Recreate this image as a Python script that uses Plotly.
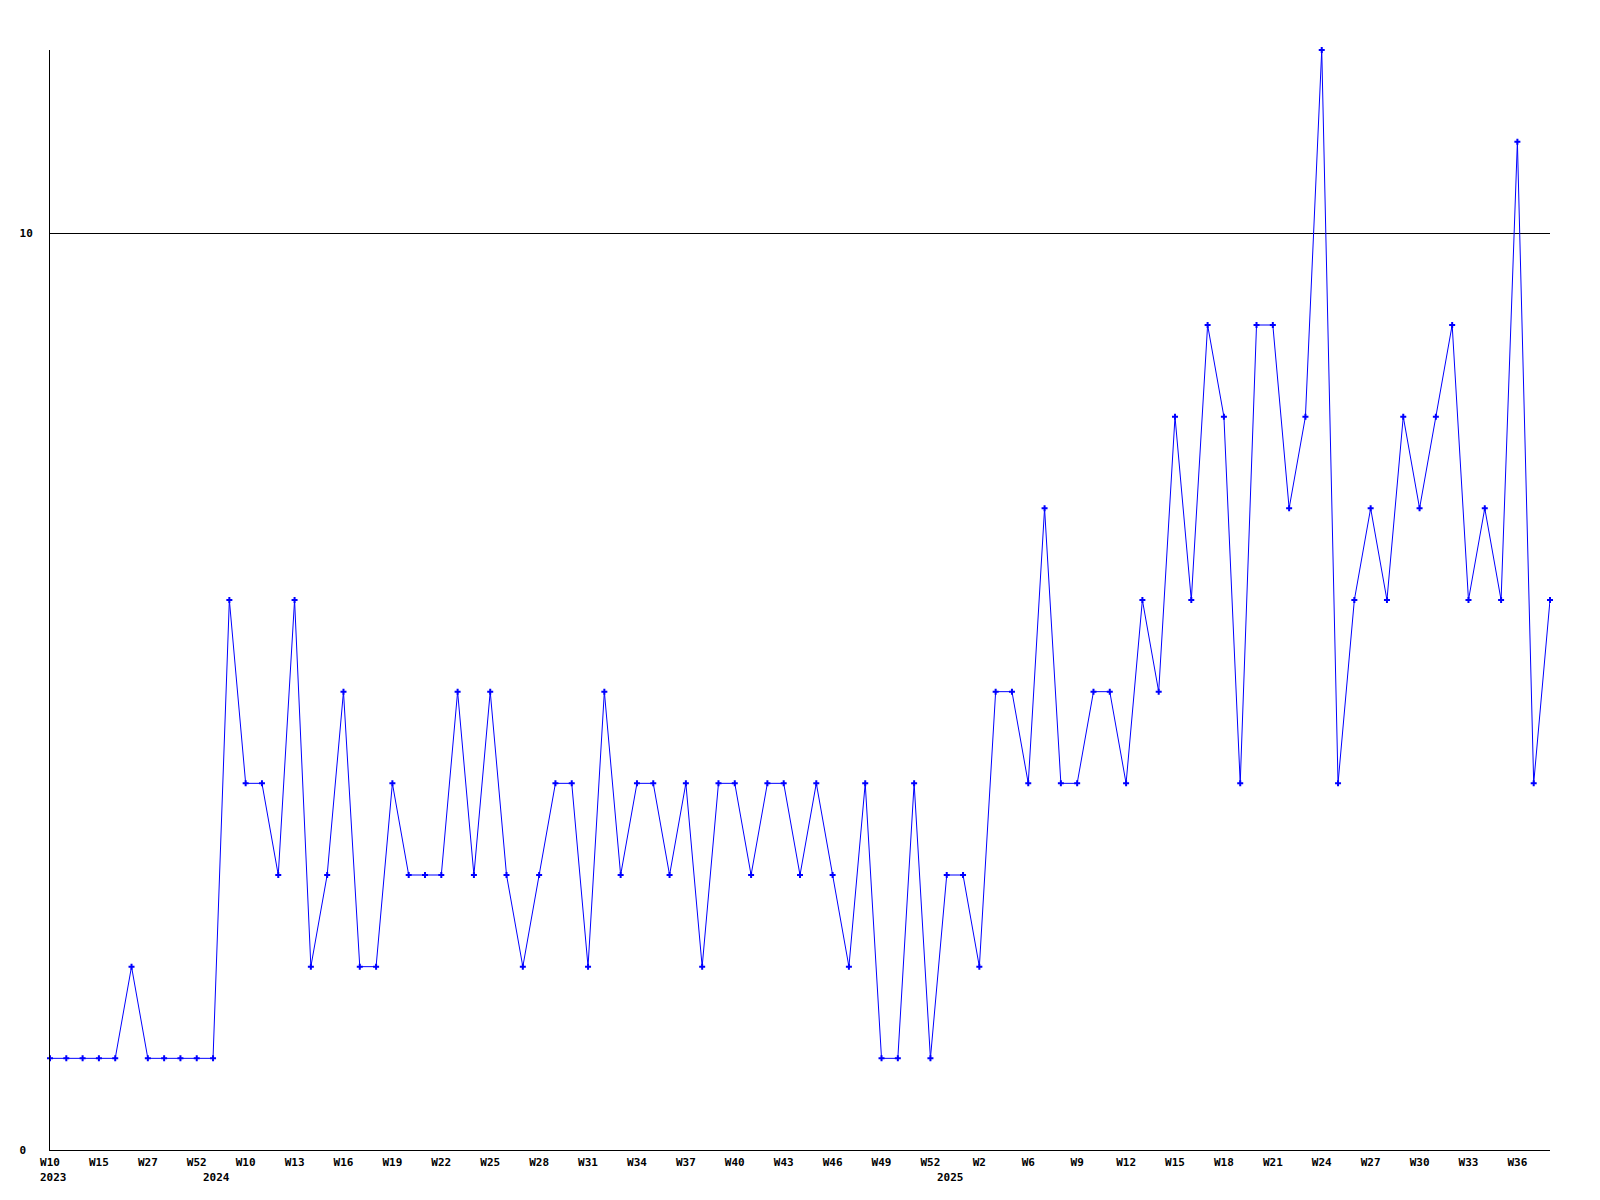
import plotly.graph_objects as go

# ---- data ----
week_labels = [
    # 2023
    "W10", "W11", "W13", "W15", "W18", "W22", "W27", "W33", "W41", "W52",
    # 2024
    "W5", "W8",
    "W10", "W11", "W12", "W13", "W14", "W15", "W16", "W17", "W18", "W19",
    "W20", "W21", "W22", "W23", "W24", "W25", "W26", "W27", "W28", "W29",
    "W30", "W31", "W32", "W33", "W34", "W35", "W36", "W37", "W38", "W39",
    "W40", "W41", "W42", "W43", "W44", "W45", "W46", "W47", "W48", "W49",
    "W50", "W51", "W52",
    # 2025
    "W0", "W1", "W2", "W4", "W5",
    "W6", "W7", "W8", "W9", "W10", "W11", "W12", "W13", "W14", "W15",
    "W16", "W17", "W18", "W19", "W20", "W21", "W22", "W23", "W24", "W25",
    "W26", "W27", "W28", "W29", "W30", "W31", "W32", "W33", "W34", "W35",
    "W36", "W37", "W38",
]

values = [
    1, 1, 1, 1, 1, 2, 1, 1, 1, 1,
    1, 6,
    4, 4, 3, 6, 2, 3, 5, 2, 2, 4,
    3, 3, 3, 5, 3, 5, 3, 2, 3, 4,
    4, 2, 5, 3, 4, 4, 3, 4, 2, 4,
    4, 3, 4, 4, 3, 4, 3, 2, 4, 1,
    1, 4, 1,
    3, 3, 2, 5, 5,
    4, 7, 4, 4, 5, 5, 4, 6, 5, 8,
    6, 9, 8, 4, 9, 9, 7, 8, 12, 4,
    6, 7, 6, 8, 7, 8, 9, 6, 7, 6,
    11, 4, 6,
]

year_labels = ["2023", "2024", "2025"]
year_start_index = [0, 10, 55]

y_tick_values = [0, 10]
y_tick_text = ["0\u00a0", "10"]

tick_step = 3

# ---- figure ----
x_idx = list(range(len(values)))
tick_idx = x_idx[::tick_step]

fig = go.Figure()
fig.add_trace(go.Scatter(
    x=x_idx,
    y=values,
    mode="lines+markers",
    line=dict(color="#0000FF", width=1),
    marker=dict(symbol="cross", size=5, color="#0000FF"),
    cliponaxis=False,
    hoverinfo="skip",
    showlegend=False,
))

font_mono = dict(family="DejaVu Sans Mono", size=11, color="black", weight="bold")

for lab, idx in zip(year_labels, year_start_index):
    fig.add_annotation(
        x=idx, y=0, xref="x", yref="paper",
        text=lab, showarrow=False,
        xanchor="left", yanchor="middle",
        xshift=-12, yshift=-27,
        font=font_mono,
    )

fig.update_layout(
    width=1600, height=1200,
    margin=dict(l=50, r=50, t=50, b=50),
    paper_bgcolor="white",
    plot_bgcolor="white",
    showlegend=False,
    xaxis=dict(
        range=[0, len(values) - 1],
        tickmode="array",
        tickvals=tick_idx,
        ticktext=[week_labels[i] for i in tick_idx],
        ticks="", ticklen=0,
        showgrid=False, zeroline=False,
        showline=True, linecolor="black", linewidth=1,
        tickfont=font_mono,
        ticklabelstandoff=2,
        fixedrange=True,
    ),
    yaxis=dict(
        range=[0, 12],
        tickmode="array",
        tickvals=y_tick_values,
        ticktext=y_tick_text,
        ticks="", ticklen=0,
        showgrid=True, gridcolor="black", gridwidth=1,
        zeroline=False,
        showline=True, linecolor="black", linewidth=1,
        tickfont=font_mono,
        ticklabelstandoff=14,
        fixedrange=True,
    ),
)

fig.write_html(
    "out.html",
    config={"displayModeBar": False},
    post_script="document.body.style.margin='0';document.body.style.overflow='hidden';",
)
